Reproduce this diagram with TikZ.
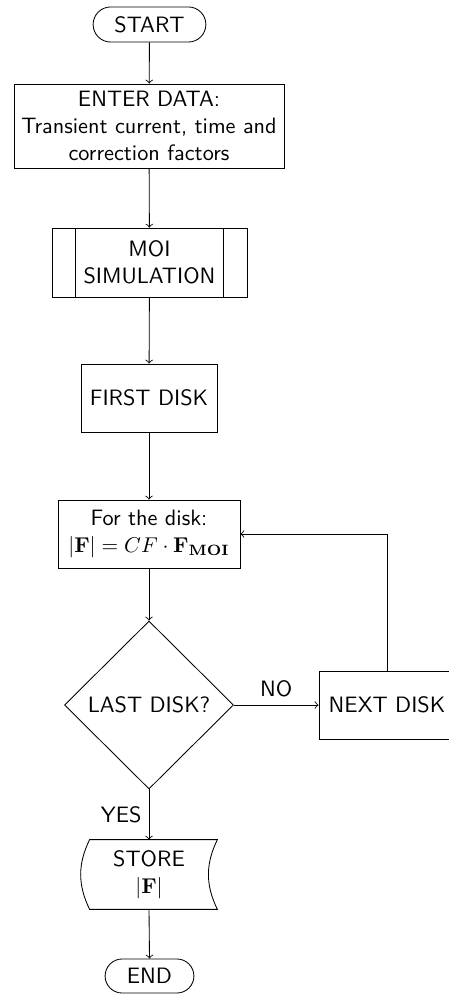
\documentclass[tikz,border=0pt]{standalone}
\usepackage{amsmath}
\usetikzlibrary{shapes.geometric,shapes.misc}
\newcommand{\flowfont}{\sffamily\fontsize{10.4}{12.6}\selectfont}
\tikzset{
    % terminals, boxes and the decision
    terminal/.style={draw,rounded rectangle,font=\flowfont,
        minimum width=54.7pt,minimum height=16.4pt,inner sep=1pt},
    process/.style={draw,rectangle,font=\flowfont,align=center,
        minimum width=63.6pt,minimum height=31.8pt,inner sep=2pt},
    decision/.style={draw,diamond,font=\flowfont,aspect=1,
        minimum width=79pt,minimum height=78.5pt,inner sep=1pt},
    storage/.style={font=\flowfont,align=center,
        minimum width=59.3pt,minimum height=32.2pt,inner sep=1pt},
    flowarrow/.style={->}
}
\begin{document}
\begin{tikzpicture}[x=0.4673pt,y=-0.4673pt]
  \useasboundingbox (0,0) rectangle (448,994);
  \node[terminal] (start) at (149.5,24.5) {START};
  \node[process,minimum width=126.2pt,minimum height=39.3pt] (enter) at (149,126)
    {ENTER DATA:\\Transient current, time and\\correction factors};
  \node[process,minimum width=91.1pt,minimum height=32.2pt] (moi) at (149.5,262.5)
    {MOI\\SIMULATION};
  \draw ([xshift=11.2pt]moi.north west) -- ([xshift=11.2pt]moi.south west)
        ([xshift=-11.2pt]moi.north east) -- ([xshift=-11.2pt]moi.south east);
  \node[process] (first) at (149,398) {FIRST DISK};
  \node[process,minimum width=85pt] (fordisk) at (149,534)
    {For the disk:\\$|\mathbf{F}| = CF\cdot\mathbf{F}_{\mathbf{MOI}}$};
  \node[decision] (last) at (149,705) {LAST DISK?};
  \node[process] (next) at (387,705) {NEXT DISK};
  \node[storage] (store) at (149,874.5) {STORE\\$|\mathbf{F}|$};
  \draw ([xshift=2.1pt]store.south west) to[bend left=26] ([xshift=2.1pt]store.north west)
        -- ([xshift=2.1pt]store.north east) to[bend right=26] ([xshift=2.1pt]store.south east)
        -- cycle;
  \node[terminal,minimum width=43.5pt,minimum height=15.9pt] (end) at (149.5,976) {END};

  \draw[flowarrow] (start) -- (enter);
  \draw[flowarrow] (enter) -- (moi);
  \draw[flowarrow] (moi) -- (first);
  \draw[flowarrow] (first) -- (fordisk);
  \draw[flowarrow] (fordisk) -- (last);
  \draw[flowarrow] (last.east) -- node[above,font=\flowfont] {NO} (next.west);
  \draw[flowarrow] (next.north) |- (fordisk.east);
  \draw[flowarrow] (last.south) -- node[left,font=\flowfont] {YES} (store.north);
  \draw[flowarrow] (store.south) -- (end.north);
\end{tikzpicture}
\end{document}
